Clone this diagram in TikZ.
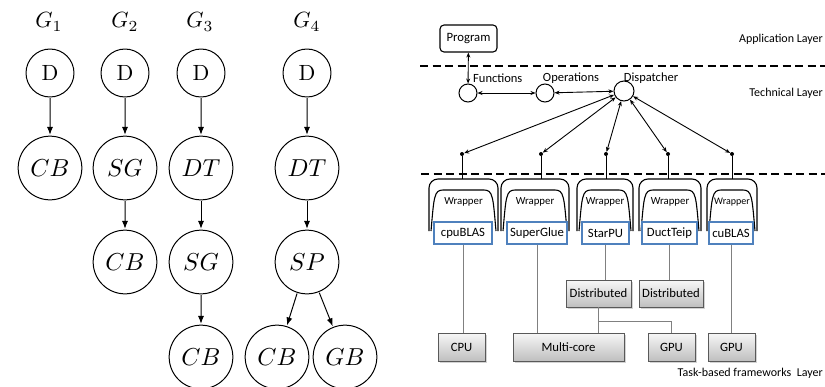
\documentclass[tikz,border=0pt]{standalone}
\usepackage{fontspec}
\newfontfamily\calibri{Carlito}
\usepackage{tikz}
\usepackage{amsmath}
\usetikzlibrary{shapes, arrows.meta, calc, positioning, shadows}
\newcommand{\nodesize}{2.2}
\newcommand{\innersize}{2.45}
\definecolor{boxblue}{RGB}{79,129,189}
\definecolor{linegray}{RGB}{128,128,128}
\newcommand{\wrapper}[4]{%
  \draw[line width=1.1pt, rounded corners=9pt] ({#2-#3},231) -- ({#2-#3},179) -- ({#2+#3},179) -- ({#2+#3},231);
  \draw[line width=1.1pt] ({#2-#3+2},231) .. controls ({#2-#3+5},197) and ({#2-#3+5},190) .. ({#2-#3+14},190)
    -- ({#2+#3-14},190) .. controls ({#2+#3-5},190) and ({#2+#3-5},197) .. ({#2+#3-2},231);
  \coordinate (#1) at (#2,179);
  \node[font=\calibri\fontsize{#4}{13}\selectfont] (#1-label) at (#2,202) {Wrapper};
}

\begin{document}
\begin{tikzpicture}[x=1pt,y=-1pt,
    arr/.style={-{Latex[length=8pt,width=6pt]}, line width=1pt},
    darr/.style={{Stealth[length=5pt,width=4pt]}-{Stealth[length=5pt,width=4pt]}, line width=0.9pt},
    layer/.style={line width=2.5pt, dash pattern=on 8pt off 4.5pt},
    tcirc/.style={draw, circle, line width=1pt, minimum size=18, inner sep=0},
    pdot/.style={circle, fill, inner sep=0, minimum size=4},
    txt/.style={font=\calibri\fontsize{12.5}{15}\selectfont, inner sep=0},
    laytxt/.style={font=\calibri\fontsize{12}{14}\selectfont, inner sep=0, anchor=east},
    progbox/.style={draw, rounded corners=4pt, line width=1.1pt, minimum width=57, minimum height=27,
      font=\calibri\fontsize{12.7}{15}\selectfont},
    fwbox/.style={draw=boxblue, line width=1.1pt, fill=white, minimum height=22, inner sep=1pt,
      font=\calibri\fontsize{12.7}{15}\selectfont},
    hwbox/.style={draw=black!65, line width=0.8pt, top color=gray!6, bottom color=gray!50,
      drop shadow={shadow xshift=1.5pt, shadow yshift=-1.5pt, opacity=0.35},
      minimum height=27, inner sep=1pt, font=\calibri\fontsize{12.7}{15}\selectfont},
    conn/.style={draw=linegray, line width=0.8pt}]
    \useasboundingbox (0,0) rectangle (825,386);

            \node[scale=\nodesize] (g1) at (49,22) {$G_1$};
            \node[scale=\nodesize] (g2) at (125,22) {$G_2$};
            \node[scale=\nodesize] (g3) at (200,22) {$G_3$};
            \node[scale=\nodesize] (g4) at (307,22) {$G_4$};

            \begin{scope}[shape=circle,line width=1pt]
            \tikzstyle{every node}=[draw,inner sep=0pt]

            \node[scale=\nodesize,minimum size=21.8] (D_1) at (50,73) {D};
            \node[scale=\innersize,minimum size=26] (CB_1) at (50,168) {$CB$};

            \node[scale=\nodesize,minimum size=21.8] (D_2) at (125,73) {D};
            \node[scale=\innersize,minimum size=26] (SG_2) at (125,168) {$SG$};
            \node[scale=\innersize,minimum size=26] (CB_2) at (125,262) {$CB$};

            \node[scale=\nodesize,minimum size=21.8] (D_3) at (201,73) {D};
            \node[scale=\innersize,minimum size=26] (DT_3) at (201,168) {$DT$};
            \node[scale=\innersize,minimum size=26] (SG_3) at (201,262) {$SG$};
            \node[scale=\innersize,minimum size=26] (CB_3) at (201,357) {$CB$};

            \node[scale=\nodesize,minimum size=21.8] (D_4) at (307,73) {D};
            \node[scale=\innersize,minimum size=26] (DT_4) at (307,168) {$DT$};
            \node[scale=\innersize,minimum size=26] (SP_4) at (307,262) {$SP$};
            \node[scale=\innersize,minimum size=26] (CB_4) at (277,357) {$CB$};
            \node[scale=\innersize,minimum size=26] (GB_4) at (345,357) {$GB$};

            \draw [arr] (D_1) -- (CB_1);

            \draw [arr] (D_2) -- (SG_2);
            \draw [arr] (SG_2) -- (CB_2);

            \draw [arr] (D_3) -- (DT_3);
            \draw [arr] (DT_3) -- (SG_3);
            \draw [arr] (SG_3) -- (CB_3);

            \draw [arr] (D_4) -- (DT_4);
            \draw [arr] (DT_4) -- (SP_4);
            \draw [arr] (SP_4) -- (CB_4);
            \draw [arr] (SP_4) -- (GB_4);
            \end{scope}

            \coordinate (sep1_l) at (420,66);
            \coordinate (sep1_r) at (830,66);
            \coordinate (sep2_l) at (421,174);
            \coordinate (sep2_r) at (830,174);
            \draw [layer] (sep1_l) -- (sep1_r);
            \draw [layer] (sep2_l) -- (sep2_r);

            \node[laytxt] (app) at (823,39) {Application Layer};
            \node[laytxt] (tech) at (823,93) {Technical Layer};
            \node[laytxt] (task) at (823,373) {Task-based frameworks\ \ Layer};

            \node[progbox] (prog) at (468.5,38.5) {Program};

            \node[tcirc] (fun) at (468,93) {};
            \node[tcirc] (ops) at (545,93) {};
            \node[tcirc,minimum size=20] (disp) at (624,91) {};
            \node[txt,anchor=west] (fun_t) at (473,78) {Functions};
            \node[txt] (ops_t) at (571,78) {Operations};
            \node[txt] (disp_t) at (651,78) {Dispatcher};

            \draw [darr] (prog) -- (fun);
            \draw [darr] (fun) -- (ops);
            \draw [darr] (ops) -- (disp);

            \node[pdot] (p_1) at (462,154) {};
            \node[pdot] (p_2) at (541,154) {};
            \node[pdot] (p_3) at (606,154) {};
            \node[pdot] (p_4) at (668,154) {};
            \node[pdot] (p_5) at (732,154) {};

            \foreach \i in {1,...,5}
                \draw [darr] (disp) -- (p_\i);

            \wrapper{w_1}{463.5}{34.5}{10.8}
            \wrapper{w_2}{535}{34}{10.8}
            \wrapper{w_3}{605}{28}{10.8}
            \wrapper{w_4}{670}{31}{10.8}
            \wrapper{w_5}{732}{25}{10}

            \foreach \i in {1,...,5}
                \draw [line width=0.9pt] (p_\i) -- (p_\i |- w_\i);

            \node[fwbox,minimum width=58] (cpublas) at (463,233) {cpuBLAS};
            \node[fwbox,minimum width=60] (sglue) at (537,233) {SuperGlue};
            \node[fwbox,minimum width=47] (starpu) at (605.5,233) {StarPU};
            \node[fwbox,minimum width=55] (ductteip) at (669.5,233) {DuctTeip};
            \node[fwbox,minimum width=44] (cublas) at (731,233) {cuBLAS};

            \node[hwbox,minimum width=65] (dist_1) at (598.5,293.5) {Distributed};
            \node[hwbox,minimum width=64] (dist_2) at (671,293.5) {Distributed};
            \node[hwbox,minimum width=47,minimum height=28] (cpu) at (461.5,347) {CPU};
            \node[hwbox,minimum width=111,minimum height=28] (mcore) at (568.5,347) {Multi-core};
            \node[hwbox,minimum width=47,minimum height=28] (gpu_1) at (671.5,347) {GPU};
            \node[hwbox,minimum width=47,minimum height=28] (gpu_2) at (731.5,347) {GPU};

            \coordinate (split) at (598.5,321);

            \draw [conn] (cpublas.south) -- (cpublas.south |- cpu.north);
            \draw [conn] (sglue.south) -- (sglue.south |- mcore.north);
            \draw [conn] (starpu.south) -- (starpu.south |- dist_1.north);
            \draw [conn] (ductteip.south) -- (ductteip.south |- dist_2.north);
            \draw [conn] (cublas.south) -- (cublas.south |- gpu_2.north);
            \draw [conn] (dist_1.south) -- (split);
            \draw [conn] (split) -- (split |- mcore.north);
            \draw [conn] (split) -| (gpu_1.north);
\end{tikzpicture}
\end{document}
